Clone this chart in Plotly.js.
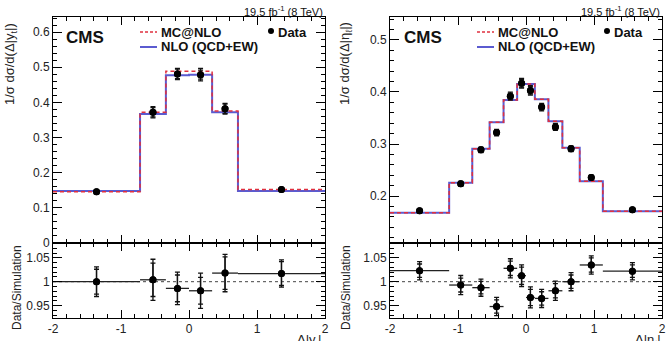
<!DOCTYPE html>
<html><head><meta charset="utf-8">
<script src="https://cdn.plot.ly/plotly-3.0.1.min.js"></script>
<style>html,body{margin:0;padding:0;background:#fff}#chart{width:667px;height:341px}</style>
</head><body><div id="chart"></div>
<script>
// ---------- Left panel: Delta|y_t| ----------
const edgesY = [-2, -0.72, -0.34, 0, 0.34, 0.72, 2];
const dataY = [0.146, 0.372, 0.481, 0.479, 0.382, 0.152];
const dataYTot = [0.0045, 0.016, 0.016, 0.018, 0.015, 0.0045];
const dataYStat = [0.0038, 0.013, 0.0135, 0.013, 0.013, 0.0038];
const mcnloY = [0.146, 0.372, 0.489, 0.489, 0.3755, 0.152];
const nloY = [0.148, 0.367, 0.477, 0.479, 0.372, 0.148];
const ratioY = [1.000, 1.004, 0.986, 0.981, 1.018, 1.017];
const ratioYTot = [0.031, 0.043, 0.034, 0.037, 0.039, 0.0285];
const ratioYStat = [0.026, 0.035, 0.028, 0.028, 0.034, 0.025];

// ---------- Right panel: Delta|eta_l| ----------
const edgesEta = [-2, -1.13, -0.79, -0.535, -0.33, -0.13, 0, 0.13, 0.33, 0.535, 0.79, 1.13, 2];
const dataEta = [0.172, 0.224, 0.289, 0.322, 0.392, 0.417, 0.403, 0.371, 0.333, 0.291, 0.236, 0.174];
const dataEtaTot = [0.0033, 0.0045, 0.0053, 0.0061, 0.0077, 0.0093, 0.0092, 0.0073, 0.0067, 0.0055, 0.0043, 0.0031];
const dataEtaStat = [0.0024, 0.0033, 0.0038, 0.0045, 0.0058, 0.0075, 0.0071, 0.0054, 0.005, 0.004, 0.0034, 0.0022];
const mcnloEta = [0.168, 0.2256, 0.291, 0.3417, 0.3846, 0.4154, 0.4154, 0.386, 0.344, 0.293, 0.2288, 0.171];
const nloEta = [0.168, 0.2256, 0.291, 0.3417, 0.3846, 0.4154, 0.4154, 0.386, 0.344, 0.293, 0.2288, 0.171];
const ratioEta = [1.023, 0.993, 0.9875, 0.948, 1.028, 1.0125, 0.967, 0.965, 0.981, 1.000, 1.035, 1.022];
const ratioEtaTot = [0.019, 0.020, 0.018, 0.019, 0.020, 0.0226, 0.022, 0.019, 0.020, 0.019, 0.019, 0.018];
const ratioEtaStat = [0.014, 0.0146, 0.013, 0.014, 0.015, 0.018, 0.017, 0.014, 0.015, 0.014, 0.015, 0.013];

// ---------- tick labels ----------
const xTickVals = [-2, -1, 0, 1, 2];
const xTickText = ['-2', '-1', '0', '1', '2'];
const yLeftTickVals = [0, 0.1, 0.2, 0.3, 0.4, 0.5, 0.6];
const yLeftTickText = ['0', '0.1', '0.2', '0.3', '0.4', '0.5', '0.6'];
const yRightTickVals = [0.2, 0.3, 0.4, 0.5];
const yRightTickText = ['0.2', '0.3', '0.4', '0.5'];
const ratioTickVals = [0.95, 1, 1.05];
const ratioTickText = ['0.95', '1', '1.05'];

const RED = '#e0303f', BLUE = '#5b5bd0';
const FONT = 'Liberation Sans, Arial, Helvetica, sans-serif';

function centers(e){ return e.slice(0,-1).map((v,i)=>(v+e[i+1])/2); }
function stepY(v){ return v.concat([v[v.length-1]]); }
function halfHi(e){ return e.slice(0,-1).map((v,i)=>(e[i+1]-v)/2); }

function histTraces(edges, mc, nlo, xa, ya){
  return [
    {x: edges, y: stepY(nlo), xaxis: xa, yaxis: ya, mode: 'lines', line: {shape: 'hv', color: BLUE, width: 2}, hoverinfo: 'skip'},
    {x: edges, y: stepY(mc), xaxis: xa, yaxis: ya, mode: 'lines', line: {shape: 'hv', color: RED, width: 1.5, dash: '4px,3px'}, hoverinfo: 'skip'}
  ];
}
function dataTraces(edges, vals, tot, stat, xa, ya, withX){
  const c = centers(edges);
  const hw = halfHi(edges);
  const t1 = {x: c, y: vals, xaxis: xa, yaxis: ya, mode: 'markers',
    marker: {color: 'black', size: 7},
    error_y: {type: 'data', array: tot, width: 2.5, thickness: 1.3, color: '#111'}};
  if (withX) t1.error_x = {type: 'data', symmetric: true, array: hw, width: 0, thickness: 1.3, color: '#222'};
  const t2 = {x: c, y: vals, xaxis: xa, yaxis: ya, mode: 'markers',
    marker: {color: 'black', size: 7},
    error_y: {type: 'data', array: stat, width: 2.5, thickness: 1.3, color: '#111'}};
  return [t1, t2];
}

const traces = [].concat(
  histTraces(edgesY, mcnloY, nloY, 'x', 'y'),
  dataTraces(edgesY, dataY, dataYTot, dataYStat, 'x', 'y', false),
  dataTraces(edgesY, ratioY, ratioYTot, ratioYStat, 'x3', 'y3', true),
  histTraces(edgesEta, mcnloEta, nloEta, 'x2', 'y2'),
  dataTraces(edgesEta, dataEta, dataEtaTot, dataEtaStat, 'x2', 'y2', false),
  dataTraces(edgesEta, ratioEta, ratioEtaTot, ratioEtaStat, 'x4', 'y4', true)
);

const W = 667, H = 341;
const px = v => v / W;
const py = v => (H - v) / H;

const xL = [px(53), px(325)], xR = [px(390), px(662)];
const yTop = [py(243), py(17)], yRat = [py(318), py(243)];

function axBase(extra){
  return Object.assign({
    showline: true, linecolor: 'black', linewidth: 1, mirror: 'allticks',
    ticks: 'inside', ticklen: 8, tickcolor: 'black', tickwidth: 1,
    showgrid: false, zeroline: false, fixedrange: true,
    tickfont: {family: FONT, size: 12, color: '#222'}
  }, extra);
}

const layout = {
  width: W, height: H,
  margin: {l: 0, r: 0, t: 0, b: 0},
  paper_bgcolor: 'white', plot_bgcolor: 'white',
  showlegend: false,
  font: {family: FONT, color: '#111'},
  xaxis: axBase({domain: xL, anchor: 'y', range: [-2, 2], tickmode: 'array', tickvals: xTickVals, ticktext: xTickText, showticklabels: false,
    minor: {ticks: 'inside', ticklen: 4, dtick: 0.2, tick0: 0, tickcolor: 'black', showgrid: false}}),
  yaxis: axBase({domain: yTop, anchor: 'x', range: [0, 0.643], tickmode: 'array', tickvals: yLeftTickVals, ticktext: yLeftTickText, ticklen: 9,
    minor: {ticks: 'inside', ticklen: 4, dtick: 0.02, tick0: 0, tickcolor: 'black', showgrid: false}}),
  xaxis3: axBase({domain: xL, anchor: 'y3', range: [-2, 2], tickmode: 'array', tickvals: xTickVals, ticktext: xTickText,
    minor: {ticks: 'inside', ticklen: 4, dtick: 0.2, tick0: 0, tickcolor: 'black', showgrid: false}}),
  yaxis3: axBase({domain: yRat, anchor: 'x3', range: [0.924, 1.081], tickmode: 'array', tickvals: ratioTickVals, ticktext: ratioTickText, ticklen: 9,
    minor: {ticks: 'inside', ticklen: 4, dtick: 0.01, tick0: 0, tickcolor: 'black', showgrid: false}}),
  xaxis2: axBase({domain: xR, anchor: 'y2', range: [-2, 2], tickmode: 'array', tickvals: xTickVals, ticktext: xTickText, showticklabels: false,
    minor: {ticks: 'inside', ticklen: 4, dtick: 0.2, tick0: 0, tickcolor: 'black', showgrid: false}}),
  yaxis2: axBase({domain: yTop, anchor: 'x2', range: [0.11, 0.544], tickmode: 'array', tickvals: yRightTickVals, ticktext: yRightTickText, ticklen: 9,
    minor: {ticks: 'inside', ticklen: 4, dtick: 0.02, tick0: 0, tickcolor: 'black', showgrid: false}}),
  xaxis4: axBase({domain: xR, anchor: 'y4', range: [-2, 2], tickmode: 'array', tickvals: xTickVals, ticktext: xTickText,
    minor: {ticks: 'inside', ticklen: 4, dtick: 0.2, tick0: 0, tickcolor: 'black', showgrid: false}}),
  yaxis4: axBase({domain: yRat, anchor: 'x4', range: [0.924, 1.081], tickmode: 'array', tickvals: ratioTickVals, ticktext: ratioTickText, ticklen: 9,
    minor: {ticks: 'inside', ticklen: 4, dtick: 0.01, tick0: 0, tickcolor: 'black', showgrid: false}}),
  shapes: [
    {type: 'line', xref: 'x3 domain', yref: 'y3', x0: 0, x1: 1, y0: 1, y1: 1, layer: 'below', line: {color: '#444', width: 1, dash: 'dot'}},
    {type: 'line', xref: 'x4 domain', yref: 'y4', x0: 0, x1: 1, y0: 1, y1: 1, layer: 'below', line: {color: '#444', width: 1, dash: 'dot'}},
    // legend samples left
    {type: 'line', xref: 'paper', yref: 'paper', x0: px(140), x1: px(157), y0: py(32), y1: py(32), line: {color: RED, width: 1.5, dash: '3px,2px'}},
    {type: 'line', xref: 'paper', yref: 'paper', x0: px(140), x1: px(157), y0: py(47), y1: py(47), line: {color: BLUE, width: 2}},
    {type: 'circle', xref: 'paper', yref: 'paper', x0: px(268), x1: px(274), y0: py(34), y1: py(28), fillcolor: 'black', line: {color: 'black', width: 0}},
    // legend samples right
    {type: 'line', xref: 'paper', yref: 'paper', x0: px(477), x1: px(494), y0: py(32), y1: py(32), line: {color: RED, width: 1.5, dash: '3px,2px'}},
    {type: 'line', xref: 'paper', yref: 'paper', x0: px(477), x1: px(494), y0: py(47), y1: py(47), line: {color: BLUE, width: 2}},
    {type: 'circle', xref: 'paper', yref: 'paper', x0: px(604), x1: px(610), y0: py(34), y1: py(28), fillcolor: 'black', line: {color: 'black', width: 0}}
  ],
  annotations: [
    // lumi labels
    {xref: 'paper', yref: 'paper', x: px(325), y: py(11), xanchor: 'right', yanchor: 'middle', showarrow: false, text: '19.5 fb<sup>-1</sup> (8 TeV)', font: {size: 11, color: '#111'}},
    {xref: 'paper', yref: 'paper', x: px(662), y: py(11), xanchor: 'right', yanchor: 'middle', showarrow: false, text: '19.5 fb<sup>-1</sup> (8 TeV)', font: {size: 11, color: '#111'}},
    // CMS
    {xref: 'paper', yref: 'paper', x: px(64), y: py(37), xanchor: 'left', yanchor: 'middle', showarrow: false, text: '<b>CMS</b>', font: {size: 17, color: '#111'}},
    {xref: 'paper', yref: 'paper', x: px(402), y: py(37), xanchor: 'left', yanchor: 'middle', showarrow: false, text: '<b>CMS</b>', font: {size: 17, color: '#111'}},
    // legend text left
    {xref: 'paper', yref: 'paper', x: px(159), y: py(32), xanchor: 'left', yanchor: 'middle', showarrow: false, text: '<b>MC@NLO</b>', font: {size: 13, color: '#111'}},
    {xref: 'paper', yref: 'paper', x: px(159), y: py(47), xanchor: 'left', yanchor: 'middle', showarrow: false, text: '<b>NLO (QCD+EW)</b>', font: {size: 13, color: '#111'}},
    {xref: 'paper', yref: 'paper', x: px(276), y: py(32), xanchor: 'left', yanchor: 'middle', showarrow: false, text: '<b>Data</b>', font: {size: 13, color: '#111'}},
    // legend text right
    {xref: 'paper', yref: 'paper', x: px(496), y: py(32), xanchor: 'left', yanchor: 'middle', showarrow: false, text: '<b>MC@NLO</b>', font: {size: 13, color: '#111'}},
    {xref: 'paper', yref: 'paper', x: px(496), y: py(47), xanchor: 'left', yanchor: 'middle', showarrow: false, text: '<b>NLO (QCD+EW)</b>', font: {size: 13, color: '#111'}},
    {xref: 'paper', yref: 'paper', x: px(612), y: py(32), xanchor: 'left', yanchor: 'middle', showarrow: false, text: '<b>Data</b>', font: {size: 13, color: '#111'}},
    // y titles
    {xref: 'paper', yref: 'paper', x: px(10), y: py(64), xanchor: 'center', yanchor: 'middle', textangle: -90, showarrow: false, text: '1/σ dσ/d(Δ|y<sub>t</sub>|)', font: {size: 13, color: '#222'}},
    {xref: 'paper', yref: 'paper', x: px(345), y: py(64), xanchor: 'center', yanchor: 'middle', textangle: -90, showarrow: false, text: '1/σ dσ/d(Δ|η<sub>ℓ</sub>|)', font: {size: 13, color: '#222'}},
    {xref: 'paper', yref: 'paper', x: px(17), y: py(288), xanchor: 'center', yanchor: 'middle', textangle: -90, showarrow: false, text: 'Data/Simulation', font: {size: 12, color: '#222'}},
    {xref: 'paper', yref: 'paper', x: px(346), y: py(288), xanchor: 'center', yanchor: 'middle', textangle: -90, showarrow: false, text: 'Data/Simulation', font: {size: 12, color: '#222'}},
    // x titles
    {xref: 'paper', yref: 'paper', x: px(323), y: py(330), xanchor: 'right', yanchor: 'top', showarrow: false, text: 'Δ|y<sub>t</sub>|', font: {size: 13, color: '#222'}},
    {xref: 'paper', yref: 'paper', x: px(663), y: py(330), xanchor: 'right', yanchor: 'top', showarrow: false, text: 'Δ|η<sub>ℓ</sub>|', font: {size: 13, color: '#222'}}
  ]
};

Plotly.newPlot('chart', traces, layout, {displayModeBar: false, staticPlot: true});
</script>
</body></html>
